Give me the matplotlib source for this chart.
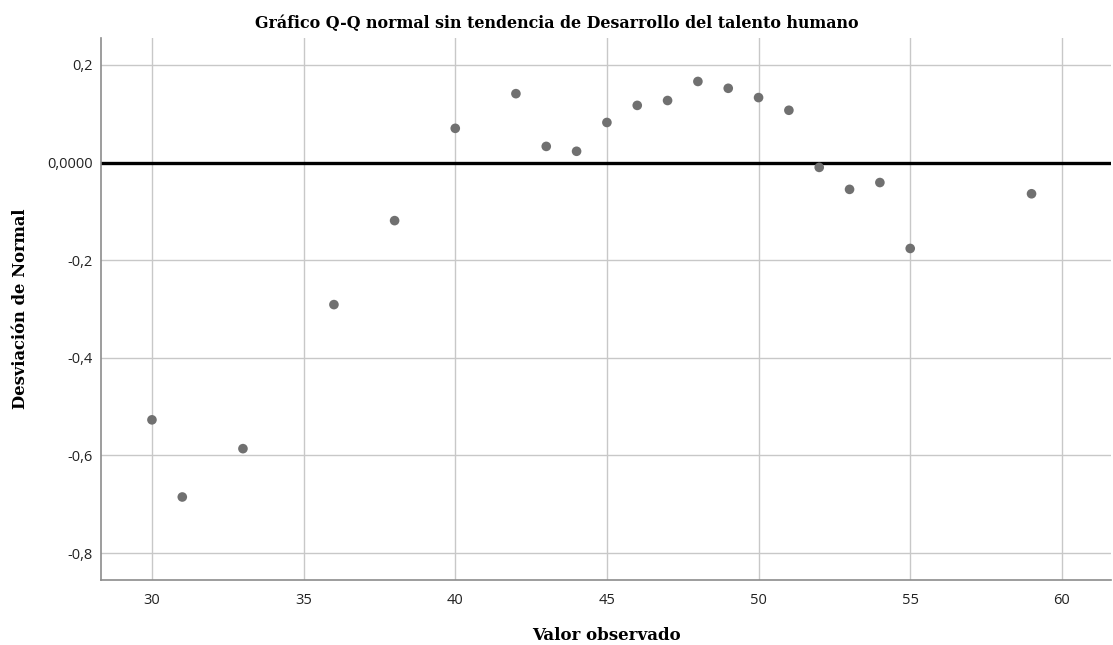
import matplotlib
matplotlib.use("Agg")
import matplotlib.pyplot as plt
from matplotlib.ticker import FixedLocator

observed = [30, 31, 33, 36, 38, 40, 42, 43, 44, 45, 46, 47, 48, 49, 50, 51, 52, 53, 54, 55, 59]
deviation = [-0.527, -0.685, -0.586, -0.291, -0.119, 0.070, 0.141, 0.033, 0.023, 0.082,
             0.117, 0.127, 0.166, 0.152, 0.133, 0.107, -0.010, -0.055, -0.041, -0.176, -0.064]
x_ticks = [30, 35, 40, 45, 50, 55, 60]
y_ticks = [0.2, 0.0, -0.2, -0.4, -0.6, -0.8]
y_tick_labels = ["0,2", "0,0000", "-0,2", "-0,4", "-0,6", "-0,8"]

W, H = 1113, 645
fig = plt.figure(figsize=(W / 100, H / 100), dpi=100)
ax = fig.add_axes([101 / W, 1 - 580 / H, (1111 - 101) / W, (580 - 38) / H])

ax.set_xlim(28.32, 61.62)
ax.set_ylim(-0.855, 0.255)

ax.xaxis.set_major_locator(FixedLocator(x_ticks))
ax.yaxis.set_major_locator(FixedLocator(y_ticks))
ax.set_yticklabels(y_tick_labels)
ax.grid(True, color="#c8c8c8", linewidth=1.0)
ax.set_axisbelow(True)

ax.axhline(0, color="black", linewidth=2.4, zorder=2)
ax.scatter(observed, deviation, s=48, color="#707070", edgecolors="none", zorder=3)

for s in ["top", "right"]:
    ax.spines[s].set_visible(False)
for s in ["left", "bottom"]:
    ax.spines[s].set_color("#8c8c8c")
    ax.spines[s].set_linewidth(1.2)

ax.tick_params(length=0, labelsize=10.5, labelcolor="#222222")
ax.tick_params(axis="y", pad=6)
ax.tick_params(axis="x", pad=9)
for lab in ax.get_xticklabels() + ax.get_yticklabels():
    lab.set_family("Open Sans")

serif = {"family": "DejaVu Serif", "weight": "bold"}
fig.text(0.5, 1 - 28 / H,
         "Gráfico Q-Q normal sin tendencia de Desarrollo del talento humano",
         ha="center", va="baseline", fontsize=11.4, **serif)
ax.set_xlabel("Valor observado", fontsize=12, labelpad=14, **serif)
ax.set_ylabel("Desviación de Normal", fontsize=11.8, labelpad=13, **serif)

fig.savefig("out.png", dpi=100)
